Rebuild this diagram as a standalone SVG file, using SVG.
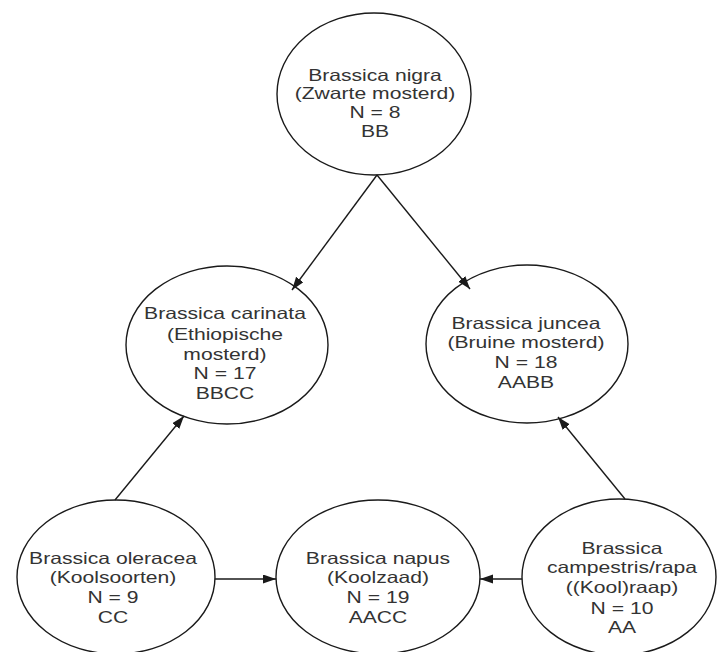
<svg xmlns="http://www.w3.org/2000/svg" width="718" height="652" viewBox="0 0 718 652">
<style>
.node ellipse{fill:#fff;stroke:#1a1a1a;stroke-width:1.4}
.node text{font-family:"Liberation Sans",Arial,sans-serif;font-size:16.5px;fill:#333;text-anchor:middle}
.edge{stroke:#1a1a1a;stroke-width:1.4;fill:none;marker-end:url(#arrow)}
</style>
<defs>
<marker id="arrow" markerUnits="userSpaceOnUse" markerWidth="14" markerHeight="10" refX="13" refY="4.5" orient="auto">
<path d="M0,0 L13,4.5 L0,9 z" fill="#1a1a1a"/>
</marker>
</defs>
<rect width="718" height="652" fill="#fff"/>
<g id="nigra" class="node">
<ellipse cx="374" cy="94" rx="97" ry="81"/>
<g transform="translate(375 0) scale(1.28 1)">
<text x="0" y="81">Brassica nigra</text>
<text x="0" y="99">(Zwarte mosterd)</text>
<text x="0" y="118">N = 8</text>
<text x="0" y="137">BB</text>
</g>
</g>
<g id="carinata" class="node">
<ellipse cx="227" cy="345" rx="101" ry="79"/>
<g transform="translate(225 0) scale(1.28 1)">
<text x="0" y="319">Brassica carinata</text>
<text x="0" y="340">(Ethiopische</text>
<text x="0" y="360">mosterd)</text>
<text x="0" y="379">N = 17</text>
<text x="0" y="399">BBCC</text>
</g>
</g>
<g id="juncea" class="node">
<ellipse cx="527" cy="344" rx="101" ry="79"/>
<g transform="translate(526 0) scale(1.28 1)">
<text x="0" y="329">Brassica juncea</text>
<text x="0" y="348">(Bruine mosterd)</text>
<text x="0" y="368">N = 18</text>
<text x="0" y="388">AABB</text>
</g>
</g>
<g id="oleracea" class="node">
<ellipse cx="116" cy="577" rx="99" ry="77"/>
<g transform="translate(113 0) scale(1.28 1)">
<text x="0" y="564">Brassica oleracea</text>
<text x="0" y="583">(Koolsoorten)</text>
<text x="0" y="603">N = 9</text>
<text x="0" y="623">CC</text>
</g>
</g>
<g id="napus" class="node">
<ellipse cx="378" cy="577" rx="102" ry="77"/>
<g transform="translate(378 0) scale(1.28 1)">
<text x="0" y="564">Brassica napus</text>
<text x="0" y="583">(Koolzaad)</text>
<text x="0" y="603">N = 19</text>
<text x="0" y="623">AACC</text>
</g>
</g>
<g id="campestris" class="node">
<ellipse cx="619" cy="577" rx="97" ry="78"/>
<g transform="translate(622 0) scale(1.28 1)">
<text x="0" y="554">Brassica</text>
<text x="0" y="573">campestris/rapa</text>
<text x="0" y="593">((Kool)raap)</text>
<text x="0" y="614">N = 10</text>
<text x="0" y="633">AA</text>
</g>
</g>
<g id="connectors">
<line class="edge" x1="377" y1="175" x2="292" y2="290"/>
<line class="edge" x1="377" y1="175" x2="470" y2="289"/>
<line class="edge" x1="115" y1="500" x2="184" y2="416"/>
<line class="edge" x1="625" y1="499" x2="558" y2="417"/>
<line class="edge" x1="215" y1="579" x2="276" y2="579"/>
<line class="edge" x1="522" y1="579" x2="480" y2="579"/>
</g>
</svg>
